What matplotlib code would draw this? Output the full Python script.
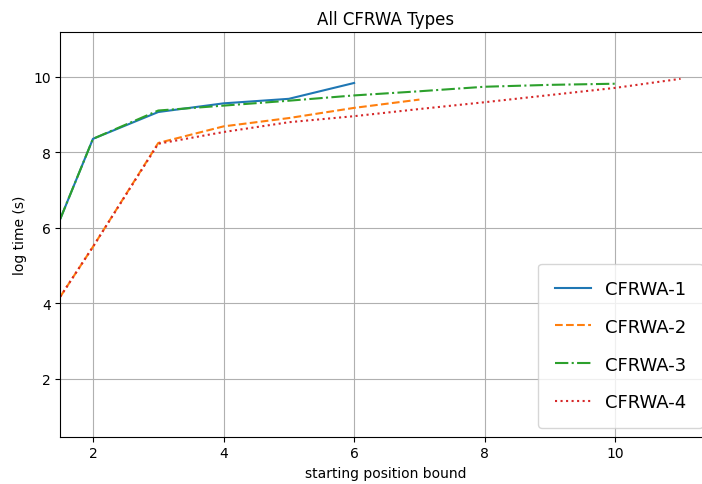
import numpy as np
import matplotlib.pyplot as plt

# starting position bound vs log time
x1 = [1.5, 2, 3, 4, 5, 6]
y1 = [6.24, 8.36, 9.07, 9.30, 9.42, 9.84]

x2 = [1.5, 2, 3, 4, 5, 6, 7]
y2 = [4.18, 5.50, 8.25, 8.69, 8.91, 9.18, 9.40]

x3 = [1.5, 2, 3, 4, 5, 6, 7, 8, 9, 10]
y3 = [6.24, 8.36, 9.11, 9.24, 9.37, 9.51, 9.62, 9.74, 9.79, 9.82]

x4 = [1.5, 2, 3, 4, 5, 6, 7, 8, 9, 10, 11]
y4 = [4.18, 5.50, 8.23, 8.54, 8.80, 8.96, 9.15, 9.33, 9.52, 9.71, 9.95]

labels = ["CFRWA-1", "CFRWA-2", "CFRWA-3", "CFRWA-4"]

fig = plt.figure(figsize=(7.02, 4.85), dpi=100)
ax = fig.add_axes([60.3 / 702, 1 - 437.7 / 485, (711.6 - 60.3) / 702, (437.7 - 33) / 485])

ax.plot(x1, y1, "-", label=labels[0])
ax.plot(x2, y2, "--", label=labels[1])
ax.plot(x3, y3, "-.", label=labels[2])
ax.plot(x4, y4, ":", label=labels[3])

ax.set_xlim(1.5, 11.475)
ax.set_ylim(0.47, 11.19)
ax.set_xticks([2, 4, 6, 8, 10])
ax.set_yticks([2, 4, 6, 8, 10])
ax.set_title("All CFRWA Types")
ax.set_xlabel("starting position bound")
ax.set_ylabel("log time (s)")
ax.grid(True)
ax.legend(loc="lower right", fontsize=13, labelspacing=1.1, borderpad=0.9)

fig.savefig("out.png", dpi=100)
